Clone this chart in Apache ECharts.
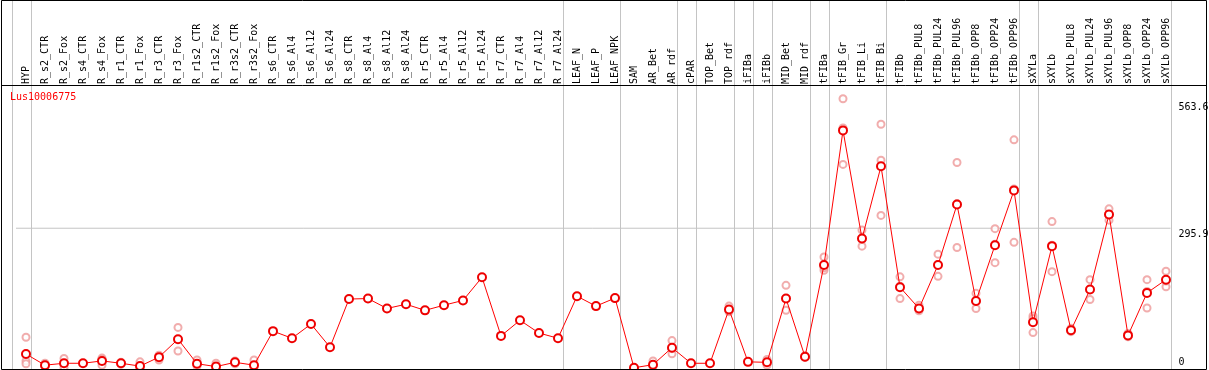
<!DOCTYPE html>
<html><head><meta charset="utf-8">
<script src="https://cdn.jsdelivr.net/npm/echarts@6/dist/echarts.min.js"></script>
<style>html,body{margin:0;padding:0;background:#fff}#c{width:1209px;height:370px}</style>
</head><body><div id="c"></div>
<script>
const geneName = 'Lus10006775';
const categories = ['HYP','R_s2_CTR','R_s2_Fox','R_s4_CTR','R_s4_Fox','R_r1_CTR','R_r1_Fox','R_r3_CTR','R_r3_Fox','R_r1s2_CTR','R_r1s2_Fox','R_r3s2_CTR','R_r3s2_Fox','R_s6_CTR','R_s6_Al4','R_s6_Al12','R_s6_Al24','R_s8_CTR','R_s8_Al4','R_s8_Al12','R_s8_Al24','R_r5_CTR','R_r5_Al4','R_r5_Al12','R_r5_Al24','R_r7_CTR','R_r7_Al4','R_r7_Al12','R_r7_Al24','LEAF_N','LEAF_P','LEAF_NPK','SAM','AR_Bet','AR_rdf','cPAR','TOP_Bet','TOP_rdf','iFIBa','iFIBb','MID_Bet','MID_rdf','tFIBa','tFIB_Gr','tFIB_Li','tFIB_Bi','tFIBb','tFIBb_PUL8','tFIBb_PUL24','tFIBb_PUL96','tFIBb_OPP8','tFIBb_OPP24','tFIBb_OPP96','sXYLa','sXYLb','sXYLb_PUL8','sXYLb_PUL24','sXYLb_PUL96','sXYLb_OPP8','sXYLb_OPP24','sXYLb_OPP96'];
const means = [29.6,6,10,10,15,10,4,23,61,9,3,12,6,78,63,93,44,146,147,126,135,122,133,143,192,68,101,74,63,152,131,148,0.5,7,43,10,10,124,13,12,147,24,218,503,274,427,171,126,218,346,142,260,376,97,258,80,166,325,69,159,187];
const rep1 = [65,10,20,null,21,12,13,27,86,17,10,15,17,null,null,null,null,null,null,null,null,null,null,null,null,null,null,null,null,null,null,null,null,15,58,null,null,131,null,18,175,26,235,570,292,516,193,133,241,435,158,295,483,110,310,84,187,337,73,187,205];
const rep2 = [15,5,9,null,18,8,0,17,36,4,0,9,1,null,null,null,null,null,null,null,null,null,null,null,null,null,null,null,null,null,null,null,null,3,30,null,null,119,null,6,122,22,207,431,258,440,147,121,194,255,126,223,266,75,204,77,145,313,66,127,172];
const rep3 = [9,3,1,null,6,null,null,null,null,null,null,null,null,null,null,null,null,null,null,null,null,null,null,null,null,null,null,null,null,null,null,null,null,null,41,null,null,122,null,null,null,null,212,508,272,323,173,124,219,348,141,262,379,105,260,79,166,325,68,162,184];
const yTickValues = [0, 295.9, 563.6];
const refLineValue = 295.9;
const groupEnds = [null,'HYP','R_r7_Al24','LEAF_NPK','AR_rdf','cPAR','TOP_rdf','iFIBa','iFIBb','MID_rdf','tFIBa','tFIB_Bi','tFIBb_OPP96','sXYLa','sXYLb_OPP96'];

const FONT = 'DejaVu Sans Mono';
const SEP_OFFSET = 0.24;
const sepPositions = groupEnds.map(n => (n === null ? -1 : categories.indexOf(n)) + SEP_OFFSET);
const repData = [];
[rep1, rep2, rep3].forEach(arr => arr.forEach((v, i) => { if (v !== null) repData.push([i, v]); }));

const chart = echarts.init(document.getElementById('c'), null, {renderer: 'canvas'});
chart.setOption({
  animation: false,
  backgroundColor: '#fff',
  title: {
    text: geneName, left: 10, top: 92, padding: 0,
    textStyle: {color: '#ff0000', fontFamily: FONT, fontSize: 10, fontWeight: 'normal'}
  },
  grid: {left: 16.5, width: 1159, top: 86, height: 282, containLabel: false, outerBoundsMode: 'none'},
  xAxis: [{
    type: 'category', data: categories, position: 'top', boundaryGap: true,
    axisLine: {show: false}, axisTick: {show: false}, splitLine: {show: false},
    axisLabel: {rotate: 90, interval: 0, margin: 2, color: '#000', fontFamily: FONT, fontSize: 10}
  }, {
    type: 'value', min: -0.5, max: categories.length - 0.5, show: false
  }],
  yAxis: [{
    type: 'value', position: 'right', min: 0, max: 597,
    axisLine: {show: false}, axisTick: {show: false}, splitLine: {show: false},
    axisLabel: {
      customValues: yTickValues, margin: 3, color: '#000', fontFamily: FONT, fontSize: 10,
      formatter: v => v === 0 ? '{b|0}' : '{t|' + v + '}',
      rich: {
        t: {padding: [12, 0, 0, 0], fontFamily: FONT, fontSize: 10, color: '#000'},
        b: {padding: [0, 0, 11, 0], fontFamily: FONT, fontSize: 10, color: '#000'}
      }
    }
  }],
  series: [{
    type: 'custom', xAxisIndex: 1, yAxisIndex: 0, silent: true, z: 1,
    data: sepPositions.map(x => [x, 0]),
    renderItem: (params, api) => {
      const p = api.coord([api.value(0), 0]);
      const cs = params.coordSys;
      const x = Math.round(p[0]) + 0.5;
      return {type: 'line', shape: {x1: x, y1: 0, x2: x, y2: cs.y + cs.height + 1},
        style: {stroke: '#c4c4c4', lineWidth: 1}};
    }
  }, {
    type: 'line', xAxisIndex: 1, yAxisIndex: 0, silent: true, clip: false, z: 1,
    symbol: 'none',
    data: [[sepPositions[0], refLineValue], [sepPositions[sepPositions.length - 1], refLineValue]],
    lineStyle: {color: '#c4c4c4', width: 1}
  }, {
    type: 'scatter', xAxisIndex: 0, yAxisIndex: 0, z: 3, silent: true,
    symbol: 'emptyCircle', symbolSize: 7,
    itemStyle: {color: '#ee9898', borderWidth: 1.3},
    data: repData
  }, {
    type: 'line', xAxisIndex: 0, yAxisIndex: 0, z: 4, silent: true,
    data: means,
    symbol: 'emptyCircle', symbolSize: 8, showAllSymbol: true,
    lineStyle: {color: '#ff0000', width: 1},
    itemStyle: {color: '#ee0000', borderWidth: 1.8}
  }],
  graphic: [
    {type: 'rect', z: 100, silent: true, shape: {x: 1.5, y: 0.5, width: 1205, height: 369},
      style: {fill: null, stroke: '#000', lineWidth: 1}},
    {type: 'line', z: 100, silent: true, shape: {x1: 1.5, y1: 85.5, x2: 1206.5, y2: 85.5},
      style: {stroke: '#000', lineWidth: 1}}
  ]
});
</script></body></html>
